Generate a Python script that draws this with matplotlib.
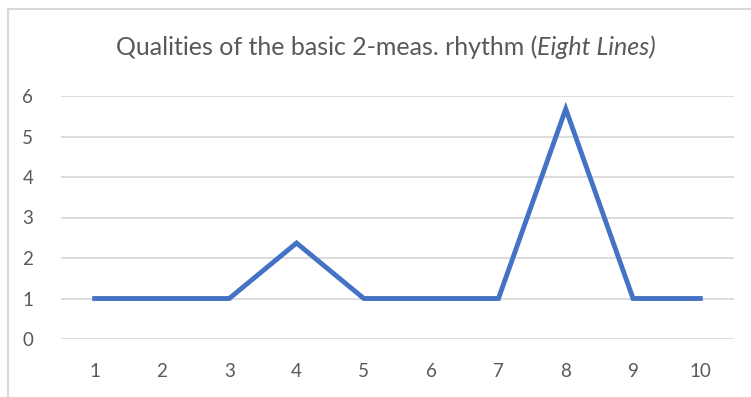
import matplotlib.pyplot as plt
from matplotlib.patches import Rectangle

# Data
positions = [1, 2, 3, 4, 5, 6, 7, 8, 9, 10]
qualities = [1, 1, 1, 2.37, 1, 1, 1, 5.68, 1, 1]
y_ticks = [0, 1, 2, 3, 4, 5, 6]

plt.rcParams['font.family'] = ['Lato', 'DejaVu Sans']
text_color = '#595959'
grid_color = '#D9D9D9'

fig = plt.figure(figsize=(7.51, 3.97), dpi=100)
ax = fig.add_axes([61 / 751, 1 - 339 / 397, (734 - 61) / 751, (339 - 96) / 397])

ax.plot(positions, qualities, color='#4472C4', linewidth=3.5, solid_joinstyle='miter')

ax.set_xlim(0.5, 10.5)
ax.set_ylim(0, 6)
ax.set_xticks(positions)
ax.set_yticks(y_ticks)
ax.tick_params(length=0, labelsize=13.5, labelcolor=text_color)
ax.tick_params(axis='x', pad=17)
ax.tick_params(axis='y', pad=20)
ax.grid(axis='y', color=grid_color, linewidth=1.3)
ax.set_axisbelow(True)
for s in ax.spines.values():
    s.set_visible(False)

# title with italic part, centred as a whole
ty = 1 - 47 / 397
t1 = fig.text(0, ty, 'Qualities of the basic 2-meas. rhythm (', ha='left', va='center',
              fontsize=18, color=text_color)
t2 = fig.text(0, ty, 'Eight Lines)', ha='left', va='center',
              fontsize=18, color=text_color, style='italic')
r = fig.canvas.get_renderer()
w1 = t1.get_window_extent(r).width / fig.bbox.width
w2 = t2.get_window_extent(r).width / fig.bbox.width
x0 = 386 / 751 - (w1 + w2) / 2
t1.set_x(x0)
t2.set_x(x0 + w1)

# chart border (cropped on right and bottom)
fig.patches.append(Rectangle((8 / 751, -0.1), 1.2, 1 - 9 / 397 + 0.1, transform=fig.transFigure,
                             fill=False, edgecolor=grid_color, linewidth=1.5))

fig.savefig('out.png', dpi=100)
